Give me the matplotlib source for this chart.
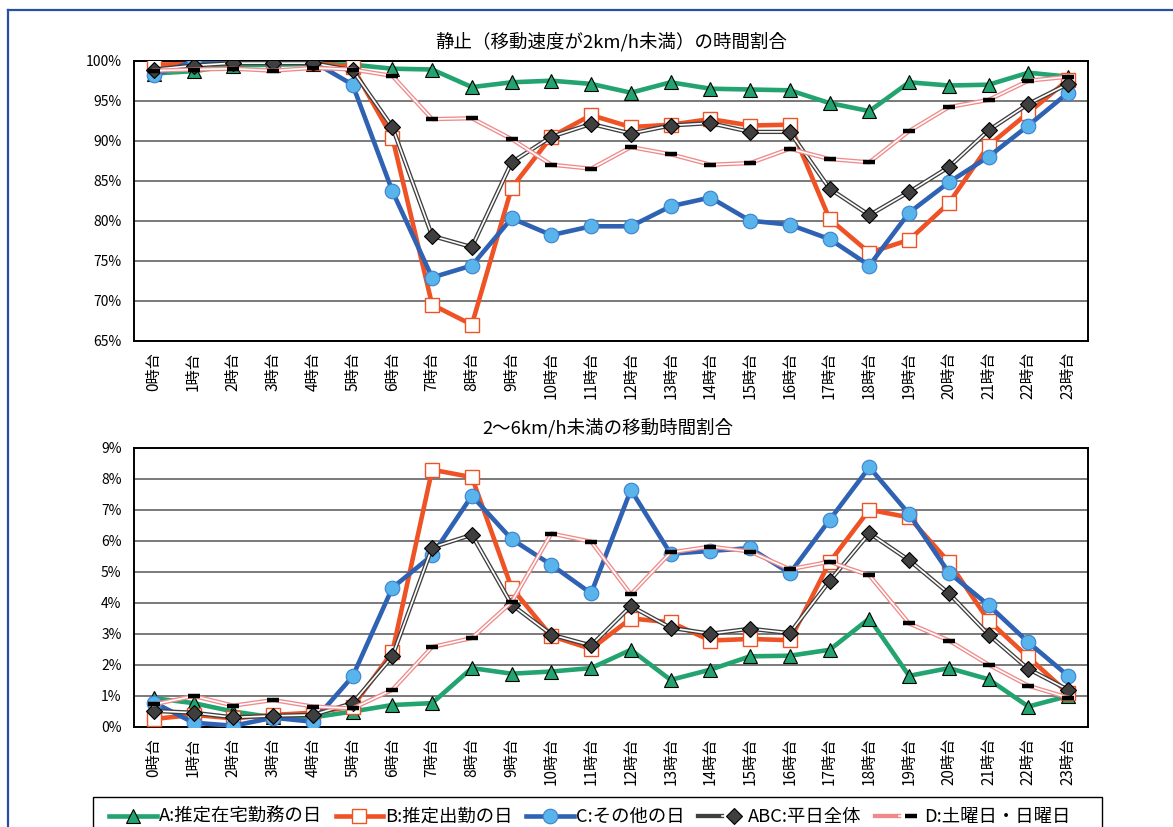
import matplotlib
matplotlib.use("Agg")
import matplotlib.pyplot as plt
from matplotlib.lines import Line2D
from matplotlib.legend_handler import HandlerTuple

plt.rcParams["font.family"] = ["Noto Sans CJK JP", "DejaVu Sans"]

# hours of the day
hours = [f"{h}時台" for h in range(24)]

# share of time spent still (speed under 2km/h), in %
still_a = [98.4, 98.7, 99.4, 99.5, 99.6, 99.5, 99.0, 98.9, 96.7, 97.3, 97.5, 97.1,
           96.0, 97.3, 96.5, 96.4, 96.3, 94.7, 93.7, 97.3, 96.9, 97.0, 98.5, 98.0]
still_b = [99.5, 99.6, 99.8, 99.8, 99.7, 99.2, 90.4, 69.5, 67.0, 84.1, 90.5, 93.2,
           91.7, 92.0, 92.7, 91.9, 92.0, 80.2, 76.0, 77.6, 82.2, 89.4, 93.5, 97.6]
still_c = [98.2, 99.9, 100.0, 99.8, 99.9, 97.0, 83.7, 72.9, 74.4, 80.3, 78.2, 79.3,
           79.3, 81.8, 82.9, 80.0, 79.5, 77.7, 74.4, 81.0, 84.8, 88.0, 91.9, 96.0]
still_abc = [98.9, 99.4, 99.7, 99.7, 99.7, 98.8, 91.7, 78.1, 76.7, 87.3, 90.5, 92.1,
             90.9, 91.9, 92.2, 91.1, 91.1, 84.0, 80.7, 83.6, 86.7, 91.3, 94.6, 97.1]
still_d = [98.75, 98.9, 99.0, 98.75, 99.1, 98.9, 98.1, 92.7, 92.8, 90.2, 87.0, 86.5,
           89.2, 88.3, 87.0, 87.2, 89.0, 87.7, 87.3, 91.2, 94.2, 95.1, 97.5, 98.0]

# share of time moving at 2-6km/h, in %
walk_a = [0.92, 0.76, 0.49, 0.30, 0.30, 0.49, 0.70, 0.76, 1.89, 1.71, 1.78, 1.89,
          2.48, 1.51, 1.84, 2.27, 2.29, 2.48, 3.49, 1.64, 1.89, 1.53, 0.65, 0.99]
walk_b = [0.25, 0.38, 0.27, 0.38, 0.45, 0.65, 2.41, 8.29, 8.05, 4.48, 2.92, 2.51,
          3.49, 3.37, 2.78, 2.83, 2.79, 5.31, 7.00, 6.75, 5.31, 3.42, 2.24, 1.08]
walk_c = [0.78, 0.13, 0.03, 0.29, 0.16, 1.62, 4.48, 5.53, 7.45, 6.05, 5.22, 4.30,
          7.64, 5.58, 5.67, 5.76, 4.95, 6.67, 8.37, 6.86, 4.97, 3.92, 2.72, 1.64]
walk_abc = [0.51, 0.45, 0.30, 0.35, 0.38, 0.76, 2.27, 5.78, 6.19, 3.94, 2.97, 2.62,
            3.89, 3.19, 3.00, 3.16, 3.02, 4.70, 6.24, 5.37, 4.30, 2.97, 1.86, 1.19]
walk_d = [0.72, 0.99, 0.68, 0.86, 0.65, 0.59, 1.19, 2.57, 2.86, 4.02, 6.23, 5.97,
          4.27, 5.62, 5.81, 5.65, 5.08, 5.32, 4.88, 3.33, 2.78, 2.00, 1.32, 0.94]

series_labels = ["A:推定在宅勤務の日", "B:推定出勤の日", "C:その他の日",
                 "ABC:平日全体", "D:土曜日・日曜日"]

GREEN = "#22a36f"
ORANGE = "#ee5225"
BLUE = "#2f62b3"
LIGHT_BLUE = "#58b4ea"
DARK = "#3f3f3f"
PINK = "#f08a8a"

W, H = 1173, 827


# converts a pixel box (from top left) into figure fractions
def px_box(left, top, right, bottom):
    return [left / W, 1 - bottom / H, (right - left) / W, (bottom - top) / H]


# draws the five series onto one axes
def draw_series(ax, a, b, c, abc, d):
    x = list(range(len(hours)))
    lw = 3.3

    ax.plot(x, a, color=GREEN, lw=lw, marker="^", ms=9.5, mfc=GREEN,
            mec="black", mew=0.8, zorder=3)
    ax.plot(x, b, color=ORANGE, lw=lw, marker="s", ms=10, mfc="white",
            mec=ORANGE, mew=1.0, zorder=4)
    ax.plot(x, c, color=BLUE, lw=lw, marker="o", ms=10.5, mfc=LIGHT_BLUE,
            mec="#3b80d0", mew=0.8, zorder=5)

    # double lines: thick coloured line with a thin white line inside
    ax.plot(x, abc, color=DARK, lw=3.1, zorder=6)
    ax.plot(x, abc, color="white", lw=1.2, zorder=6.1)
    ax.plot(x, abc, ls="none", marker="D", ms=8, mfc=DARK, mec="black",
            mew=0.8, zorder=6.2)

    ax.plot(x, d, color=PINK, lw=3.1, zorder=7)
    ax.plot(x, d, color="white", lw=1.2, zorder=7.1)
    ax.plot(x, d, ls="none", marker="_", ms=9, mec="black", mew=3.2, zorder=7.2)


# shared look of both axes
def style_axes(ax, ticks, fmt):
    ax.set_xlim(-0.5, len(hours) - 0.5)
    ax.set_ylim(ticks[0], ticks[-1])
    ax.set_yticks(ticks)
    ax.set_yticklabels([fmt.format(t) for t in ticks], fontsize=10)
    ax.set_xticks(range(len(hours)))
    ax.set_xticklabels(hours, rotation=90, fontsize=11, va="top")
    ax.tick_params(axis="both", length=0)
    ax.tick_params(axis="y", pad=9)
    ax.tick_params(axis="x", pad=8)
    ax.grid(axis="y", color="#555555", lw=1.1, zorder=1)
    ax.set_axisbelow(True)
    for s in ax.spines.values():
        s.set_color("black")
        s.set_linewidth(1.4)


fig = plt.figure(figsize=(W / 100, H / 100), dpi=100)

# blue frame around the whole chart
fig.add_artist(Line2D([8 / W, 1.0], [1 - 10 / H, 1 - 10 / H], color="#2a4ea0",
                      lw=1.6, transform=fig.transFigure))
fig.add_artist(Line2D([8 / W, 8 / W], [0.0, 1 - 10 / H], color="#2a4ea0",
                      lw=1.6, transform=fig.transFigure))

# top chart: still time
ax1 = fig.add_axes(px_box(134, 60.7, 1088, 340.7))
draw_series(ax1, still_a, still_b, still_c, still_abc, still_d)
style_axes(ax1, list(range(65, 101, 5)), "{}%")
fig.text(611 / W, 1 - 42 / H, "静止（移動速度が2km/h未満）の時間割合",
         ha="center", va="center", fontsize=13.3)

# bottom chart: 2-6km/h moving time
ax2 = fig.add_axes(px_box(134, 447.7, 1088, 726.7))
draw_series(ax2, walk_a, walk_b, walk_c, walk_abc, walk_d)
style_axes(ax2, list(range(0, 10)), "{}%")
fig.text(608 / W, 1 - 428 / H, "2〜6km/h未満の移動時間割合",
         ha="center", va="center", fontsize=13.3)

# legend handles built to look like the plotted lines
h_a = Line2D([], [], color=GREEN, lw=3.3, marker="^", ms=9.5, mfc=GREEN, mec="black", mew=0.8)
h_b = Line2D([], [], color=ORANGE, lw=3.3, marker="s", ms=10, mfc="white", mec=ORANGE, mew=1.0)
h_c = Line2D([], [], color=BLUE, lw=3.3, marker="o", ms=10.5, mfc=LIGHT_BLUE, mec="#3b80d0", mew=0.8)
h_abc = (Line2D([], [], color=DARK, lw=3.1),
         Line2D([], [], color="white", lw=1.2, marker="D", ms=8, mfc=DARK, mec="black", mew=0.8))
h_d = (Line2D([], [], color=PINK, lw=3.1),
       Line2D([], [], color="white", lw=1.2, marker="_", ms=9, mec="black", mew=3.2))

# legend box runs off the bottom edge
fig.add_artist(plt.Rectangle((93 / W, -0.1), (1102 - 93) / W, 0.1 + 1 - 797 / H,
                             transform=fig.transFigure, fill=False,
                             edgecolor="black", lw=1.0))
fig.legend([h_a, h_b, h_c, h_abc, h_d], series_labels, ncol=5,
           loc="center", bbox_to_anchor=(590 / W, 1 - 817 / H),
           frameon=False, fontsize=13.2, handlelength=2.6, handletextpad=0.1,
           columnspacing=0.75, borderpad=0,
           handler_map={tuple: HandlerTuple(ndivide=None)})

fig.savefig("out.png", dpi=100)
